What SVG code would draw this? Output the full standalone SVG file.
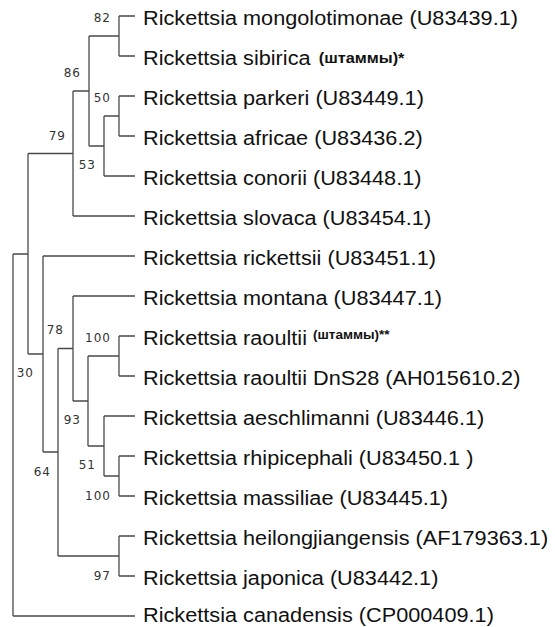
<svg xmlns="http://www.w3.org/2000/svg" width="555" height="627" viewBox="0 0 555 627">
<style>
.br{fill:none;stroke:#4a4a4a;stroke-width:1.3}
.lb{font-family:"Liberation Sans",Arial,sans-serif;font-size:20px;fill:#111}
.sm{font-family:"Liberation Sans",Arial,sans-serif;font-weight:bold;fill:#111}
.bs{font-family:"DejaVu Sans",Verdana,sans-serif;font-size:12px;fill:#333;text-anchor:end;letter-spacing:1px}
</style>
<rect width="555" height="627" fill="#fff"/>
<g id="connectors" class="br">
<path d="M119 16H135M119 56H135M119 96H135M119 136H135M104 176H135M73 216H135M43 256H135M73 296H135M119 336H135M119 376H135M104 416H135M119 456H135M119 496H135M119 536H135M119 576H135M13 616H135"/>
<path d="M119 16V56M89 36H119"/>
<path d="M119 96V136M104 116H119"/>
<path d="M104 116V176M89 146H104"/>
<path d="M89 36V146M73 91H89"/>
<path d="M73 91V216M28 153.5H73"/>
<path d="M119 336V376M88 356H119"/>
<path d="M119 456V496M104 476H119"/>
<path d="M104 416V476M88 446H104"/>
<path d="M88 356V446M73 401H88"/>
<path d="M73 296V401M58 348.5H73"/>
<path d="M119 536V576M58 556H119"/>
<path d="M58 348.5V556M43 452H58"/>
<path d="M43 256V452M28 354H43"/>
<path d="M28 153.5V354M13 254H28"/>
<path d="M13 254V616"/>
</g>
<g id="support">
<text class="bs" x="111" y="22">82</text>
<text class="bs" x="81" y="77">86</text>
<text class="bs" x="111" y="102">50</text>
<text class="bs" x="66" y="140">79</text>
<text class="bs" x="96" y="169">53</text>
<text class="bs" x="64" y="334">78</text>
<text class="bs" x="111" y="342">100</text>
<text class="bs" x="34" y="377">30</text>
<text class="bs" x="81" y="424">93</text>
<text class="bs" x="96" y="469">51</text>
<text class="bs" x="51" y="476">64</text>
<text class="bs" x="111" y="500">100</text>
<text class="bs" x="111" y="580">97</text>
</g>
<g id="leaf-mongolotimonae"><text class="lb" transform="translate(143 25) scale(1.085 1)">Rickettsia mongolotimonae (U83439.1)</text></g>
<g id="leaf-sibirica"><text class="lb" transform="translate(143 65) scale(1.085 1)">Rickettsia sibirica <tspan class="sm" font-size="15" dx="2" dy="-2">(штаммы)*</tspan></text></g>
<g id="leaf-parkeri"><text class="lb" transform="translate(143 105) scale(1.085 1)">Rickettsia parkeri (U83449.1)</text></g>
<g id="leaf-africae"><text class="lb" transform="translate(143 145) scale(1.085 1)">Rickettsia africae (U83436.2)</text></g>
<g id="leaf-conorii"><text class="lb" transform="translate(143 185) scale(1.085 1)">Rickettsia conorii (U83448.1)</text></g>
<g id="leaf-slovaca"><text class="lb" transform="translate(143 225) scale(1.085 1)">Rickettsia slovaca (U83454.1)</text></g>
<g id="leaf-rickettsii"><text class="lb" transform="translate(143 265) scale(1.085 1)">Rickettsia rickettsii (U83451.1)</text></g>
<g id="leaf-montana"><text class="lb" transform="translate(143 305) scale(1.085 1)">Rickettsia montana (U83447.1)</text></g>
<g id="leaf-raoultii"><text class="lb" transform="translate(143 345) scale(1.085 1)">Rickettsia raoultii <tspan class="sm" font-size="12.5" dy="-6">(штаммы)**</tspan></text></g>
<g id="leaf-raoultii-DnS28"><text class="lb" transform="translate(143 385) scale(1.085 1)">Rickettsia raoultii DnS28 (AH015610.2)</text></g>
<g id="leaf-aeschlimanni"><text class="lb" transform="translate(143 425) scale(1.085 1)">Rickettsia aeschlimanni (U83446.1)</text></g>
<g id="leaf-rhipicephali"><text class="lb" transform="translate(143 465) scale(1.085 1)">Rickettsia rhipicephali (U83450.1 )</text></g>
<g id="leaf-massiliae"><text class="lb" transform="translate(143 505) scale(1.085 1)">Rickettsia massiliae (U83445.1)</text></g>
<g id="leaf-heilongjiangensis"><text class="lb" transform="translate(143 545) scale(1.085 1)">Rickettsia heilongjiangensis (AF179363.1)</text></g>
<g id="leaf-japonica"><text class="lb" transform="translate(143 585) scale(1.085 1)">Rickettsia japonica (U83442.1)</text></g>
<g id="leaf-canadensis"><text class="lb" transform="translate(143 622) scale(1.085 1)">Rickettsia canadensis (CP000409.1)</text></g>
</svg>
